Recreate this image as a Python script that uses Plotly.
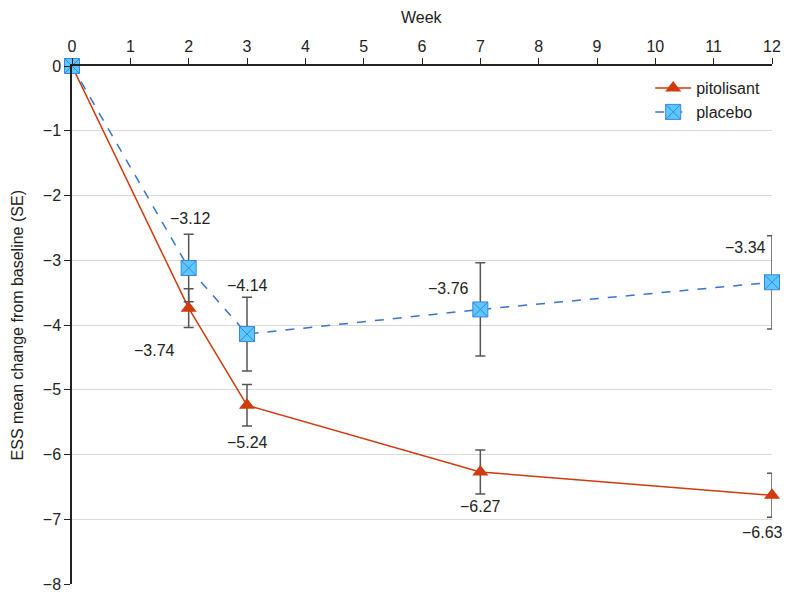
import plotly.graph_objects as go

weeks = [0, 2, 3, 7, 12]
pitolisant = [0, -3.74, -5.24, -6.27, -6.63]
pitolisant_se = [0, 0.30, 0.32, 0.34, 0.34]
placebo = [0, -3.12, -4.14, -3.76, -3.34]
placebo_se = [0, 0.52, 0.57, 0.72, 0.72]
x_ticks = list(range(0, 13))
y_ticks = list(range(-8, 1))

FONT = "Liberation Sans, Arial, sans-serif"
RED = "#D03A0C"
BLUE = "#3A72D0"

fig = go.Figure()
fig.add_trace(go.Scatter(
    x=weeks, y=pitolisant, name="pitolisant", mode="lines+markers",
    line=dict(color=RED, width=1.5),
    marker=dict(symbol="triangle-up", size=14, color=RED),
    error_y=dict(type="data", array=pitolisant_se, color="#555555", thickness=1.5, width=5),
    cliponaxis=False,
))
fig.add_trace(go.Scatter(
    x=weeks, y=placebo, name="placebo", mode="lines+markers",
    line=dict(color=BLUE, width=1.5, dash="dash"),
    marker=dict(symbol="square-x", size=15, color="#5CC8FF", line=dict(color="#3A86DC", width=1)),
    error_y=dict(type="data", array=placebo_se, color="#555555", thickness=1.5, width=5),
    cliponaxis=False,
))

labels = [
    (2, placebo[1], "\u22123.12", 2, 50),
    (2, pitolisant[1], "\u22123.74", -34, -42),
    (3, placebo[2], "\u22124.14", 0, 49),
    (3, pitolisant[2], "\u22125.24", 0, -37),
    (7, placebo[3], "\u22123.76", -32, 21),
    (7, pitolisant[3], "\u22126.27", 0, -35),
    (12, placebo[4], "\u22123.34", -27, 35),
    (12, pitolisant[4], "\u22126.63", -10, -37),
]
for x, y, t, dx, dy in labels:
    fig.add_annotation(x=x, y=y, text=t, showarrow=False, xshift=dx, yshift=dy,
                       font=dict(size=16, color="#222222", family=FONT))

fig.add_annotation(xref="paper", yref="paper", x=-0.078, y=0.5, xanchor="center", yanchor="middle",
                   text="ESS mean change from baseline (SE)",
                   textangle=-90, showarrow=False, font=dict(size=16, color="#222222", family=FONT))
fig.add_annotation(xref="paper", yref="paper", x=0.5, y=1.094, xanchor="center", yanchor="middle",
                   text="Week", showarrow=False, font=dict(size=16, color="#222222", family=FONT))

fig.update_layout(
    width=789, height=587, autosize=False,
    margin=dict(l=64, r=25, t=58, b=11, autoexpand=False),
    plot_bgcolor="white", paper_bgcolor="white",
    font=dict(family=FONT, size=16, color="#222222"),
    showlegend=True,
    legend=dict(x=0.826, y=0.99, xanchor="left", yanchor="top",
                bgcolor="rgba(255,255,255,0)", font=dict(size=16), tracegroupgap=2, itemwidth=36),
    xaxis=dict(side="top", range=[0, 12], tickvals=x_ticks, showgrid=False, automargin=False,
               showline=True, linecolor="#222222", linewidth=1.5,
               ticks="outside", ticklen=6, tickcolor="#222222", zeroline=False),
    yaxis=dict(range=[-8, 0], tickvals=y_ticks, automargin=False,
               ticktext=[("\u2212" + str(-v)) if v < 0 else str(v) for v in y_ticks],
               showgrid=True, gridcolor="#D9D9D9", gridwidth=1,
               showline=True, linecolor="#222222", linewidth=1.5,
               ticks="outside", ticklen=6, tickcolor="#222222", zeroline=False),
)
fig.write_html("out.html")
